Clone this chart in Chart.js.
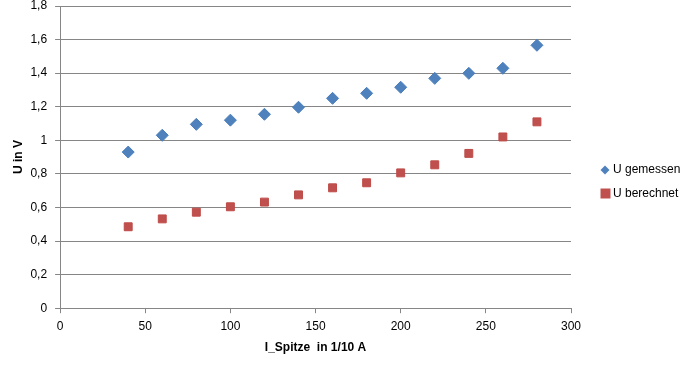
<!DOCTYPE html>
<html><head><meta charset="utf-8">
<script src="https://cdn.jsdelivr.net/npm/chart.js@4/dist/chart.umd.min.js"></script>
<style>html,body{margin:0;padding:0;background:#fff}#wrap{width:684px;height:368px}</style>
</head><body><div id="wrap"><canvas id="c" width="684" height="368"></canvas></div>
<script>
const xValues = [40, 60, 80, 100, 120, 140, 160, 180, 200, 220, 240, 260, 280];
const uGemessen = [0.93, 1.03, 1.095, 1.12, 1.155, 1.197, 1.25, 1.28, 1.316, 1.369, 1.399, 1.429, 1.566];
const uBerechnet = [0.485, 0.532, 0.572, 0.604, 0.632, 0.675, 0.717, 0.747, 0.806, 0.854, 0.922, 1.02, 1.11];
const yTickLabels = ['0', '0,2', '0,4', '0,6', '0,8', '1', '1,2', '1,4', '1,6', '1,8'];
const xTickLabels = ['0', '50', '100', '150', '200', '250', '300'];
const seriesNames = ['U gemessen', 'U berechnet'];

const FONT = "'Liberation Sans', Arial, sans-serif";
const gridCol = '#868686';
const pts = (ys) => xValues.map((x, i) => ({x: x, y: ys[i]}));

const customLegend = {
  id: 'customLegend',
  afterDraw(chart) {
    const ctx = chart.ctx;
    const items = chart.data.datasets;
    const x0 = 605, y0 = 170, dy = 23.5;
    ctx.save();
    ctx.font = '12px ' + FONT;
    ctx.textBaseline = 'middle';
    ctx.textAlign = 'left';
    items.forEach((ds, i) => {
      const y = y0 + i * dy;
      ctx.fillStyle = ds.backgroundColor;
      ctx.beginPath();
      if (ds.pointStyle === 'rectRot') {
        ctx.moveTo(x0, y - 4.5); ctx.lineTo(x0 + 4.5, y); ctx.lineTo(x0, y + 4.5); ctx.lineTo(x0 - 4.5, y);
        ctx.closePath();
      } else {
        ctx.rect(x0 - 4.5, y - 5, 10, 10);
      }
      ctx.fill();
      ctx.fillStyle = '#000';
      ctx.fillText(ds.label, 613, y);
    });
    ctx.restore();
  }
};

new Chart(document.getElementById('c'), {
  type: 'scatter',
  data: {
    datasets: [
      {label: seriesNames[0], data: pts(uGemessen), pointStyle: 'rectRot', pointRadius: 6, pointHoverRadius: 6,
       backgroundColor: '#4f81bd', borderColor: '#4a7ebb', borderWidth: 1},
      {label: seriesNames[1], data: pts(uBerechnet), pointStyle: 'rect', pointRadius: 5.6, pointHoverRadius: 5.6,
       backgroundColor: '#c0504d', borderColor: '#be4b48', borderWidth: 1}
    ]
  },
  plugins: [customLegend],
  options: {
    responsive: false,
    animation: false,
    layout: {autoPadding: false, padding: {left: 11, right: 113, top: 6, bottom: 9}},
    plugins: {
      tooltip: {enabled: false},
      legend: {display: false}
    },
    scales: {
      x: {
        type: 'linear', min: 0, max: 300,
        ticks: {stepSize: 50, color: '#000', font: {family: FONT, size: 12}, padding: 6,
          callback: (v) => xTickLabels[Math.round(v / 50)]},
        grid: {drawOnChartArea: false, drawTicks: true, tickLength: 5, color: gridCol},
        border: {color: gridCol},
        title: {display: true, text: 'I_Spitze  in 1/10 A', color: '#000',
          font: {family: FONT, size: 12, weight: 'bold'}, padding: {top: 1, bottom: 4}}
      },
      y: {
        min: 0, max: 1.8,
        afterFit: (s) => { s.paddingTop = 0; s.paddingBottom = 0; },
        ticks: {stepSize: 0.2, color: '#000', font: {family: FONT, size: 12}, padding: 8,
          callback: (v) => yTickLabels[Math.round(v / 0.2)]},
        grid: {color: gridCol, tickLength: 5, lineWidth: 1},
        border: {color: gridCol},
        title: {display: true, text: 'U in V', color: '#000',
          font: {family: FONT, size: 12, weight: 'bold'}, padding: {top: 0, bottom: -3}}
      }
    }
  }
});
</script></body></html>
